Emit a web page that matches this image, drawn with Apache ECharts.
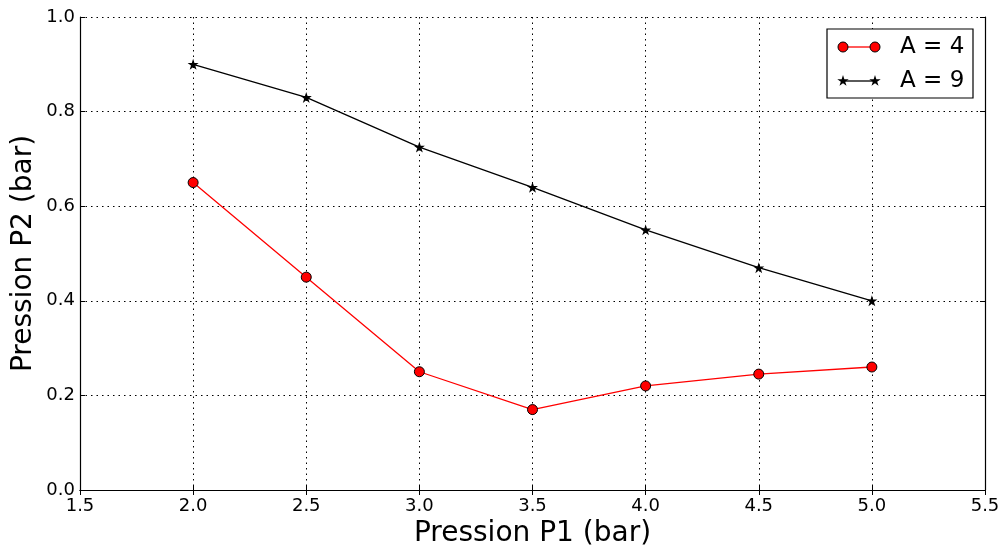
<!DOCTYPE html>
<html><head><meta charset="utf-8">
<script src="https://cdn.jsdelivr.net/npm/echarts@6/dist/echarts.min.js"></script>
<style>html,body{margin:0;padding:0;background:#fff}#c{width:1005px;height:545px}</style>
</head><body><div id="c"></div>
<script>
const p1 = [2.0, 2.5, 3.0, 3.5, 4.0, 4.5, 5.0];
const a4 = [0.65, 0.45, 0.25, 0.17, 0.22, 0.245, 0.26];
const a9 = [0.90, 0.83, 0.725, 0.64, 0.55, 0.47, 0.40];
const seriesNames = ['A = 4', 'A = 9'];
const xTitle = 'Pression P1 (bar)';
const yTitle = 'Pression P2 (bar)';

const star = 'path://M50,0 L61.8,35.4 L98.9,35.4 L68.9,57.3 L80.4,92.7 L50,70.8 L19.6,92.7 L31.1,57.3 L1.1,35.4 L38.2,35.4 Z';
const font = 'DejaVu Sans';
const chart = echarts.init(document.getElementById('c'));
const baseX = {type:'value', min:1.5, max:5.5, interval:0.5};
const baseY = {type:'value', min:0, max:1.0, interval:0.2};

function starPoints(cx, cy, R) {
  const r = R * 0.382, pts = [];
  for (let k = 0; k < 10; k++) {
    const ang = -Math.PI / 2 + k * Math.PI / 5;
    const rr = k % 2 === 0 ? R : r;
    pts.push([cx + rr * Math.cos(ang), cy + rr * Math.sin(ang)]);
  }
  return pts;
}

// legend drawn as graphic (matplotlib style: marker at both ends of the line)
const LX = 827, LY = 29, LW = 146, LH = 69;
const rows = [LY + 18, LY + 52];
const legendGraphic = [
  {type:'rect', shape:{x:LX, y:LY, width:LW, height:LH}, style:{fill:'#fff', stroke:'#000', lineWidth:1.2}, z:100},
  {type:'line', shape:{x1:843, y1:rows[0], x2:875, y2:rows[0]}, style:{stroke:'#ff0000', lineWidth:1.3}, z:101},
  {type:'circle', shape:{cx:843, cy:rows[0], r:5}, style:{fill:'#ff0000', stroke:'#000', lineWidth:1}, z:102},
  {type:'circle', shape:{cx:875, cy:rows[0], r:5}, style:{fill:'#ff0000', stroke:'#000', lineWidth:1}, z:102},
  {type:'text', x:900, y:rows[0], style:{text:seriesNames[0], font:'23px "DejaVu Sans"', fill:'#000', textVerticalAlign:'middle'}, z:102},
  {type:'line', shape:{x1:843, y1:rows[1], x2:875, y2:rows[1]}, style:{stroke:'#000', lineWidth:1.3}, z:101},
  {type:'polygon', shape:{points:starPoints(843, rows[1], 6)}, style:{fill:'#000'}, z:102},
  {type:'polygon', shape:{points:starPoints(875, rows[1], 6)}, style:{fill:'#000'}, z:102},
  {type:'text', x:900, y:rows[1], style:{text:seriesNames[1], font:'23px "DejaVu Sans"', fill:'#000', textVerticalAlign:'middle'}, z:102}
];

chart.setOption({
  animation:false,
  textStyle:{fontFamily:font},
  grid:{left:80, right:20, top:17, bottom:55, outerBoundsMode:'none', containLabel:false},
  graphic:legendGraphic,
  xAxis:[
    Object.assign({}, baseX, {position:'bottom', name:xTitle, nameLocation:'middle', nameGap:29,
      nameTextStyle:{fontSize:28, color:'#000', fontFamily:font},
      axisLine:{lineStyle:{color:'#000', width:1.2}},
      axisTick:{inside:true, length:5, lineStyle:{color:'#000'}},
      axisLabel:{fontSize:18, color:'#000', margin:7, formatter:v=>v.toFixed(1)},
      splitLine:{show:true, lineStyle:{color:'#000', type:[1.5,4], width:1}}}),
    Object.assign({}, baseX, {position:'top',
      axisLine:{lineStyle:{color:'#000', width:1.2}},
      axisTick:{inside:true, length:5, lineStyle:{color:'#000'}},
      axisLabel:{show:false}, splitLine:{show:false}})
  ],
  yAxis:[
    Object.assign({}, baseY, {position:'left', name:yTitle, nameLocation:'middle', nameGap:42,
      nameMoveOverlap:false,
      nameTextStyle:{fontSize:28, color:'#000', fontFamily:font},
      axisLine:{show:true, lineStyle:{color:'#000', width:1.2}},
      axisTick:{show:true, inside:true, length:5, lineStyle:{color:'#000'}},
      axisLabel:{fontSize:18, color:'#000', margin:5, formatter:v=>v.toFixed(1)},
      splitLine:{show:true, lineStyle:{color:'#000', type:[1.5,4], width:1}}}),
    Object.assign({}, baseY, {position:'right',
      axisLine:{show:true, lineStyle:{color:'#000', width:1.2}},
      axisTick:{show:true, inside:true, length:5, lineStyle:{color:'#000'}},
      axisLabel:{show:false}, splitLine:{show:false}})
  ],
  series:[
    {name:seriesNames[0], type:'line', data:p1.map((x,i)=>[x,a4[i]]),
     symbol:'circle', symbolSize:10,
     lineStyle:{color:'#ff0000', width:1.3},
     itemStyle:{color:'#ff0000', borderColor:'#000', borderWidth:1}},
    {name:seriesNames[1], type:'line', data:p1.map((x,i)=>[x,a9[i]]),
     symbol:star, symbolSize:11,
     lineStyle:{color:'#000', width:1.3},
     itemStyle:{color:'#000', borderColor:'#000', borderWidth:0}}
  ]
});
</script></body></html>
